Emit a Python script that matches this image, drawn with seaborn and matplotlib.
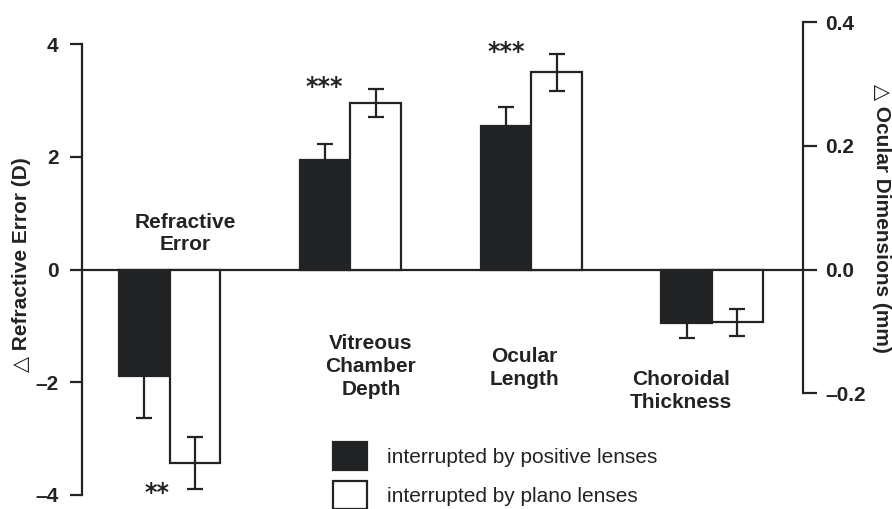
import numpy as np
import pandas as pd
import matplotlib
matplotlib.use("Agg")
from matplotlib import pyplot as plt
import seaborn as sns

# data
categories = ["Refractive Error", "Vitreous Chamber Depth", "Ocular Length", "Choroidal Thickness"]
groups = ["interrupted by positive lenses", "interrupted by plano lenses"]

# refractive error (D)
re_positive = [-1.89]
re_positive_err = [0.74]
re_plano = [-3.43]
re_plano_err = [0.46]

# ocular dimensions (mm): VCD, OL, CT
dim_positive = [0.177, 0.232, -0.087]
dim_positive_err = [0.026, 0.031, 0.024]
dim_plano = [0.269, 0.319, -0.085]
dim_plano_err = [0.023, 0.030, 0.022]

stars = ["**", "***", "***"]
cat_labels = ["Refractive\nError", "Vitreous\nChamber\nDepth", "Ocular\nLength", "Choroidal\nThickness"]

re_df = pd.DataFrame({
    "cat": [categories[0]] * 2,
    "group": groups,
    "value": re_positive + re_plano,
    "err": re_positive_err + re_plano_err,
})
dim_df = pd.DataFrame({
    "cat": categories[1:] * 2,
    "group": [groups[0]] * 3 + [groups[1]] * 3,
    "value": dim_positive + dim_plano,
    "err": dim_positive_err + dim_plano_err,
})

sns.set_style("white")
plt.rcParams['font.family'] = ['Liberation Sans', 'DejaVu Sans']

ink = "#222325"
pal = {groups[0]: ink, groups[1]: "white"}

fig = plt.figure(figsize=(8.92, 5.09), dpi=100)
ax = fig.add_axes([82 / 892, 1 - 495 / 509, (803 - 82) / 892, (495 - 21) / 509])
ax2 = ax.twinx()

for a, df in [(ax, re_df), (ax2, dim_df)]:
    sns.barplot(data=df, x="cat", y="value", hue="group", order=categories,
                hue_order=groups, palette=pal, edgecolor=ink, linewidth=1.6,
                width=0.56, gap=0, errorbar=None, legend=False, ax=a)
    # error bars on each bar
    for p in a.patches:
        h = p.get_height()
        row = df.loc[(df["value"] - h).abs() < 1e-9]
        if len(row) == 0:
            continue
        a.errorbar(p.get_x() + p.get_width() / 2, h, yerr=row["err"].iloc[0],
                   color=ink, capsize=5.8, elinewidth=1.6, capthick=1.6, zorder=5)

# scales: 0 aligned, 56.5 px per D on the left, 620 px per mm on the right
ylo, yhi = -4.0, 4.41
ax.set_ylim(ylo, yhi)
k = 56.5 / 620
ax2.set_ylim(ylo * k, yhi * k)
ax.set_xlim(-0.484, 3.503)

ax.axhline(0, color=ink, lw=1.6, zorder=0)

for a in (ax, ax2):
    a.set_xlabel("")
    a.set_xticks([])
    for s in ["top", "bottom"]:
        a.spines[s].set_visible(False)
ax.spines["right"].set_visible(False)
ax2.spines["left"].set_visible(False)
ax.spines["left"].set_bounds(-4, 4)
ax2.spines["right"].set_bounds(-0.2, 0.4)
for a, side in [(ax, "left"), (ax2, "right")]:
    a.spines[side].set_linewidth(1.6)
    a.spines[side].set_color(ink)

ax.set_yticks([-4, -2, 0, 2, 4])
ax.set_yticklabels(["\u20134", "\u20132", "0", "2", "4"])
ax2.set_yticks([-0.2, 0.0, 0.2, 0.4])
ax2.set_yticklabels(["\u20130.2", "0.0", "0.2", "0.4"])
ax.tick_params(axis="y", left=True, length=9, width=1.6, pad=8, labelsize=15, colors=ink)
ax2.tick_params(axis="y", right=True, length=10, width=1.6, pad=6, labelsize=15, colors=ink)
for lab in ax.get_yticklabels() + ax2.get_yticklabels():
    lab.set_fontweight("bold")

ax.set_ylabel("\u25b3 Refractive Error (D)", fontsize=15, fontweight="bold", color=ink)
ax.yaxis.set_label_coords((22 - 82) / 721, (495 - 265) / 474)
ax.yaxis.label.set_va("center")
ax2.set_ylabel("\u25b3 Ocular Dimensions (mm)", fontsize=15, fontweight="bold", color=ink,
               rotation=270)
ax2.yaxis.set_label_coords((881 - 82) / 721, (495 - 218) / 474)
ax2.yaxis.label.set_va("center")

# category labels (x in category units, y in D)
lab_x = [0.086, 1.114, 1.96, 2.83]
lab_y = [0.64, -1.72, -1.75, -2.16]
for t, x, y in zip(cat_labels, lab_x, lab_y):
    ax2.text(x, y * k, t, ha="center", va="center", fontsize=15, fontweight="bold",
             color=ink, linespacing=1.25)

star_x = [-0.072, 0.858, 1.86]
star_y = [-3.97, 3.24, 3.86]
for s, x, y in zip(stars, star_x, star_y):
    ax.text(x, y, s, ha="center", va="center", fontsize=17, fontweight="bold",
            color=ink, family="DejaVu Sans")

# legend
handles = [plt.Rectangle((0, 0), 1, 1, facecolor=pal[g], edgecolor=ink, linewidth=1.6) for g in groups]
fig.legend(handles, groups, loc="upper left", bbox_to_anchor=(333 / 892, 1 - 442 / 509),
           bbox_transform=fig.transFigure, frameon=False, fontsize=15, borderpad=0,
           borderaxespad=0, handlelength=1.63, handleheight=1.72, labelspacing=0.5,
           handletextpad=0.95, labelcolor=ink)

fig.savefig("out.png", dpi=100)
